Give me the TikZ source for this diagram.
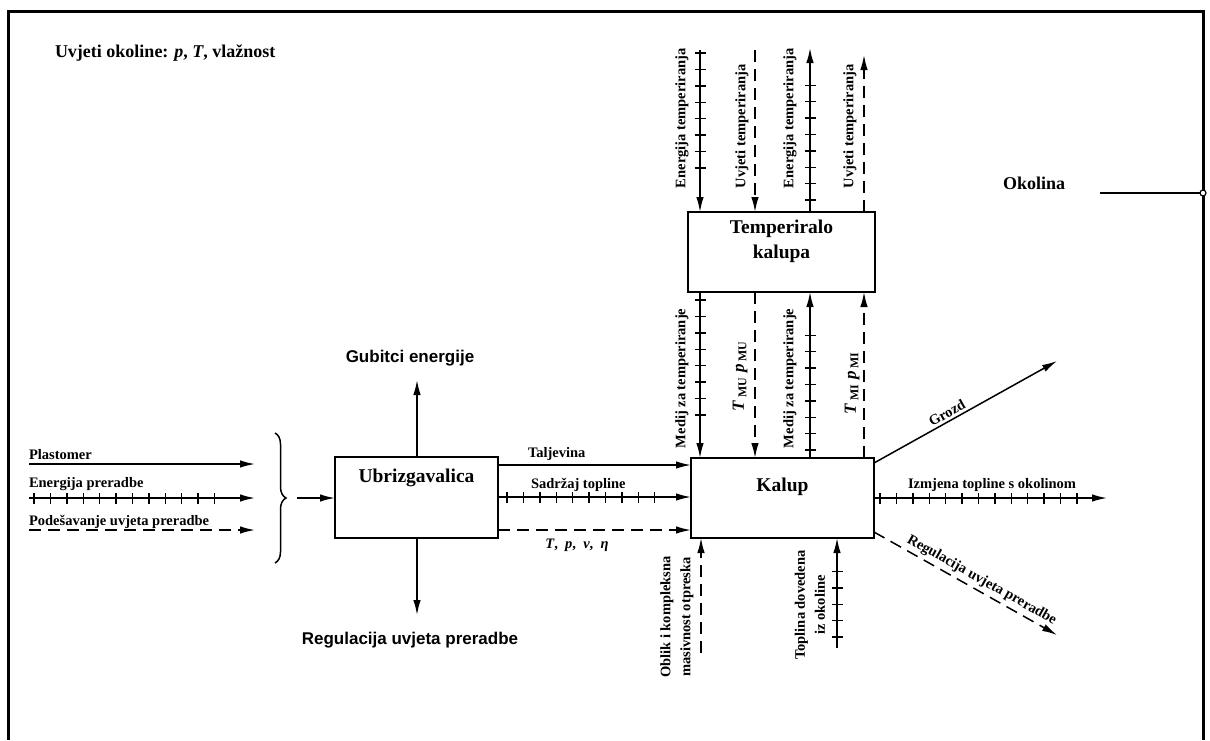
\documentclass[tikz,border=0pt]{standalone}
\usepackage{fontspec}
\setmainfont{Liberation Serif}
\newfontfamily\arialf{Liberation Sans}
\usetikzlibrary{arrows.meta,decorations.markings,decorations.pathreplacing}
\begin{document}
\begin{tikzpicture}[x=1pt,y=-1pt,
  every node/.style={inner sep=0pt, outer sep=0pt},
  box/.style={draw, line width=2.4pt, fill=white, inner sep=0pt},
  conn/.style={line width=1.5pt, -{Latex[length=15pt,width=7.5pt]}},
  dashedconn/.style={conn, dash pattern=on 12pt off 7pt},
  ticked/.style={conn, postaction={decorate}, decoration={markings, mark=between positions #1 step 16.4pt with {\draw[line width=1.4pt,solid,arrows=-] (0,-5.5pt) -- (0,5.5pt);}}},
  lbl/.style={font=\fontsize{14.5}{20}\selectfont\bfseries},
  big/.style={font=\fontsize{19.5}{25}\selectfont\bfseries, align=center},
  sans/.style={font=\arialf\fontsize{17}{20}\selectfont\bfseries},
]
\useasboundingbox (0,0) rectangle (1210,740);
% frame
\draw[line width=3pt] (8,740) -- (8,11) -- (1203,11) -- (1203,740);

% boxes
\node[box, minimum width=187pt, minimum height=80pt] (tk) at (781.5,252) {};
\node[big] (tkt) at (781.5,241) {Temperiralo\\kalupa};
\node[box, minimum width=183pt, minimum height=80pt] (ka) at (782.5,498) {};
\node[big] (kat) at (782.5,487) {Kalup};
\node[box, minimum width=163pt, minimum height=81pt] (ub) at (416.5,497.5) {};
\node[big] (ubt) at (416.5,478) {Ubrizgavalica};

% top text
\node[font=\fontsize{18}{20}\selectfont\bfseries, anchor=west] (uv) at (55,53) {Uvjeti okoline: \textit{p}, \textit{T}, vlažnost};
\node[font=\fontsize{18}{20}\selectfont\bfseries] (ok) at (1034,183) {Okolina};
\coordinate (ol) at (1100,193);
\coordinate (okc) at (1203,193);
\draw[line width=2pt] (ol) -- (okc);
\draw[line width=1.2pt, fill=white] (okc) circle (3pt);

% top lines
\coordinate (t1) at (700,50);
\coordinate (t2) at (755,50);
\coordinate (t3) at (810,48);
\coordinate (t4) at (864,55);
\draw[ticked={3pt and -29pt}] (t1) -- (t1 |- tk.north);
\draw[dashedconn] (t2) -- (t2 |- tk.north);
\draw[ticked={12pt and -21pt}] (t3 |- tk.north) -- (t3);
\draw[dashedconn] (t4 |- tk.north) -- (t4);
\node[lbl, rotate=90, anchor=west] (l1) at (682,188) {Energija temperiranja};
\node[lbl, rotate=90, anchor=west] (l2) at (742,188) {Uvjeti temperiranja};
\node[lbl, rotate=90, anchor=west] (l3) at (790,188) {Energija temperiranja};
\node[lbl, rotate=90, anchor=west] (l4) at (850,188) {Uvjeti temperiranja};

% middle lines
\draw[ticked={8pt and -29pt}] (t1 |- tk.south) -- (t1 |- ka.north);
\draw[dashedconn] (t2 |- tk.south) -- (t2 |- ka.north);
\draw[ticked={8pt and -29pt}] (t3 |- ka.north) -- (t3 |- tk.south);
\draw[dashedconn] (t4 |- ka.north) -- (t4 |- tk.south);
\node[lbl, rotate=90, anchor=west] (m1) at (682,448) {Medij za temperiranje};
\node[lbl, rotate=90, anchor=west] (m3) at (790,448) {Medij za temperiranje};
\node[font=\fontsize{17}{20}\selectfont\bfseries, rotate=90] (m2) at (740,376) {\textit{T}\,\textsubscript{MU}\ \textit{p}\,\textsubscript{MU}};
\node[font=\fontsize{17}{20}\selectfont\bfseries, rotate=90] (m4) at (852,383) {\textit{T}\,\textsubscript{MI}\ \textit{p}\,\textsubscript{MI}};

% bottom lines
\coordinate (b1) at (701,653);
\coordinate (b2) at (837,648);
\draw[dashedconn] (b1) -- (b1 |- ka.south);
\draw[ticked={11pt and -32pt}] (b2) -- (b2 |- ka.south);
\node[lbl, rotate=90, align=center] (ob) at (677,617) {Oblik i kompleksna\\masivnost otpreska};
\node[lbl, rotate=90, align=center] (tp) at (810,605) {Toplina dovedena\\iz okoline};

% left inputs
\coordinate (p0) at (29,464); \coordinate (p1) at (255,464);
\coordinate (e0) at (29,498); \coordinate (e1) at (255,498);
\coordinate (d0) at (29,530); \coordinate (d1) at (255,530);
\draw[conn] (p0) -- (p1);
\draw[ticked={5pt and -25pt}] (e0) -- (e1);
\draw[dashedconn] (d0) -- (d1);
\node[lbl, anchor=base west] (pl) at (29,459) {Plastomer};
\node[lbl, anchor=base west] (ep) at (29,487) {Energija preradbe};
\node[lbl, anchor=base west] (pu) at (29,525) {Podešavanje uvjeta preradbe};
\draw[line width=1.5pt, decorate, decoration={brace, amplitude=11pt}] (275,433) -- (275,563);
\coordinate (br) at (297,498);
\draw[conn] (br) -- (ub.west |- br);

% Ubrizgavalica outputs
\coordinate (gu) at (417,380);
\coordinate (rg) at (417,615);
\draw[conn] (ub.north -| gu) -- (gu);
\draw[conn] (ub.south -| rg) -- (rg);
\node[sans] (gut) at (410,358) {Gubitci energije};
\node[sans] (rgt) at (410,640) {Regulacija uvjeta preradbe};

% Ubrizgavalica -> Kalup
\coordinate (y1) at (0,465);
\coordinate (y2) at (0,497);
\coordinate (y3) at (0,530);
\draw[conn] (ub.east |- y1) -- (ka.west |- y1);
\draw[ticked={9pt and -21pt}] (ub.east |- y2) -- (ka.west |- y2);
\draw[dashedconn] (ub.east |- y3) -- (ka.west |- y3);
\node[lbl, anchor=base west] (tl) at (528,457) {Taljevina};
\node[lbl, anchor=base west] (sd) at (531,488) {Sadržaj topline};
\node[lbl, anchor=base] (tpv) at (577,548) {\textit{T},\ \ \textit{p},\ \ \textit{v},\ \ \textit{η}};

% Kalup outputs
\coordinate (yg) at (0,463);
\coordinate (yi) at (0,498);
\coordinate (yr) at (0,532);
\coordinate (gr) at (1057,361);
\coordinate (iz) at (1107,498);
\coordinate (rr) at (1057,635);
\draw[conn] (ka.east |- yg) -- (gr) node[lbl, pos=0.42, above=3pt, sloped] {Grozd};
\draw[ticked={6pt and -27pt}] (ka.east |- yi) -- (iz);
\node[lbl, anchor=base] (izt) at (992,488) {Izmjena topline s okolinom};
\draw[dashedconn] (ka.east |- yr) -- (rr) node[lbl, pos=0.56, above=4pt, sloped] {Regulacija uvjeta preradbe};
\end{tikzpicture}
\end{document}
